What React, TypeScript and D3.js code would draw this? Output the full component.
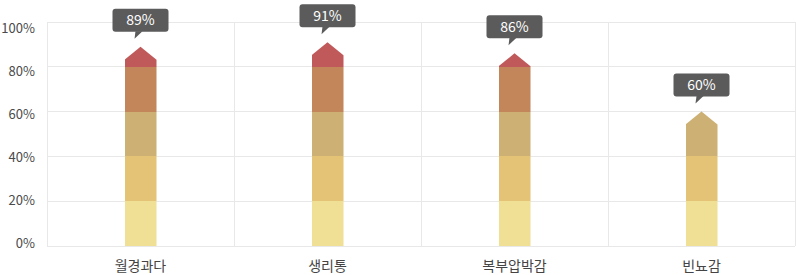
import React from "react";
import * as d3 from "d3";

const categories = ["월경과다", "생리통", "복부압박감", "빈뇨감"];
const values = [89, 91, 86, 60];
const yTicks = [0, 20, 40, 60, 80, 100];
const bandColors = ["#efe096", "#e4c377", "#ccb074", "#c2865a", "#c0595a"];

const W = 796;
const H = 275;
const left = 47;
const right = 795;
const top = 22;
const bottom = 246;
const barW = 32;
const headH = 13;
const font = "'Noto Sans CJK KR', 'Noto Sans', sans-serif";

export default function App() {
  const x = d3.scaleBand<string>().domain(categories).range([left, right]).padding(0);
  const y = d3.scaleLinear().domain([0, 100]).range([bottom, top]);
  const yLabel = d3.scaleLinear().domain([0, 100]).range([243, 28.5]);
  const bands = d3.range(bandColors.length).map((i) => [i * 20, (i + 1) * 20]);

  return (
    <svg
      width={W}
      height={H}
      style={{ position: "absolute", left: 0, top: 0, background: "#fff" }}
    >
      <defs>
        {categories.map((c, i) => {
          const cx = (x(c) as number) + x.bandwidth() / 2;
          const ty = y(values[i]);
          const path = d3.path();
          path.moveTo(cx - barW / 2, y(0));
          path.lineTo(cx - barW / 2, ty + headH);
          path.lineTo(cx, ty);
          path.lineTo(cx + barW / 2, ty + headH);
          path.lineTo(cx + barW / 2, y(0));
          path.closePath();
          return (
            <clipPath id={`clip${i}`} key={c}>
              <path d={path.toString()} />
            </clipPath>
          );
        })}
      </defs>
      {yTicks.map((t) => (
        <line
          key={t}
          x1={left}
          x2={right}
          y1={y(t)}
          y2={y(t)}
          stroke="#e8e8e8"
          strokeWidth={1}
          shapeRendering="crispEdges"
        />
      ))}
      {[...categories.map((c) => x(c) as number), right].map((v, i) => (
        <line
          key={i}
          x1={v}
          x2={v}
          y1={top}
          y2={bottom}
          stroke="#e8e8e8"
          strokeWidth={1}
          shapeRendering="crispEdges"
        />
      ))}
      {yTicks.map((t) => (
        <text
          key={t}
          x={35}
          y={yLabel(t) + 4.5}
          textAnchor="end"
          fontFamily={font}
          fontSize={13}
          fill="#4a4a4a"
        >
          {t}%
        </text>
      ))}
      {categories.map((c, i) => {
        const cx = (x(c) as number) + x.bandwidth() / 2;
        return (
          <g key={c} clipPath={`url(#clip${i})`}>
            {bands.map(([a, b], j) => (
              <rect
                key={j}
                x={cx - barW / 2}
                width={barW}
                y={y(b)}
                height={y(a) - y(b)}
                fill={bandColors[j]}
                shapeRendering="crispEdges"
              />
            ))}
          </g>
        );
      })}
      {categories.map((c, i) => {
        const cx = (x(c) as number) + x.bandwidth() / 2;
        const ty = y(values[i]);
        const boxBottom = ty - 15;
        const boxH = 23;
        const boxW = 56;
        return (
          <g key={c}>
            <rect
              x={cx - boxW / 2}
              y={boxBottom - boxH}
              width={boxW}
              height={boxH}
              rx={3}
              fill="#5b5b5b"
            />
            <path
              d={`M${cx - 5},${boxBottom - 0.5} L${cx - 6},${boxBottom + 7} L${cx + 2},${boxBottom - 0.5} Z`}
              fill="#5b5b5b"
            />
            <text
              x={cx}
              y={boxBottom - boxH / 2 + 5}
              textAnchor="middle"
              fontFamily={font}
              fontSize={14}
              fill="#fff"
            >
              {values[i]}%
            </text>
          </g>
        );
      })}
      {categories.map((c) => (
        <text
          key={c}
          x={(x(c) as number) + x.bandwidth() / 2}
          y={271}
          textAnchor="middle"
          fontFamily={font}
          fontSize={14}
          fill="#444"
        >
          {c}
        </text>
      ))}
    </svg>
  );
}
